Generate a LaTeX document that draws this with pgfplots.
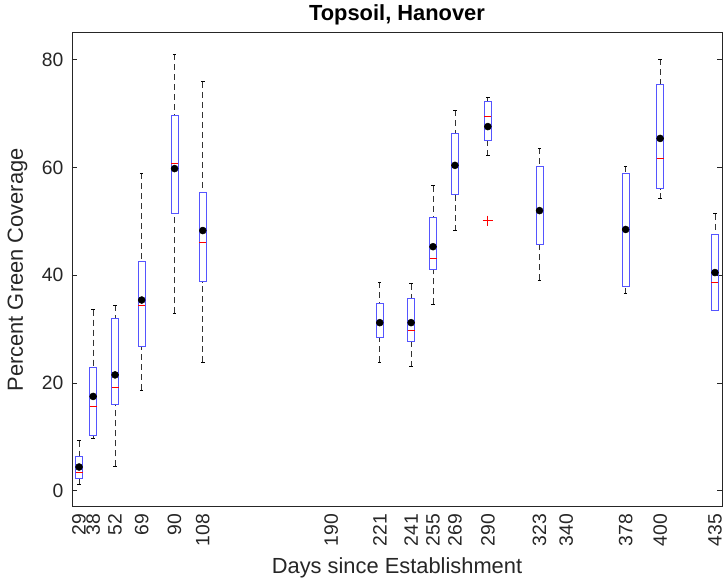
\documentclass[border=0pt]{standalone}
\usepackage{fontspec}
\setmainfont{Liberation Sans}
\usepackage{pgfplots}
\pgfplotsset{compat=1.18}
\usepgfplotslibrary{statistics}

\definecolor{axisgrey}{RGB}{38,38,38}
\definecolor{boxblue}{RGB}{85,85,255}

\pgfplotsset{
  mbox/.style={
    boxblue, line width=0.75pt,
    boxplot/draw direction=y,
    boxplot/box extend=4.5,
    boxplot/whisker extend=2.2,
    boxplot/every box/.style={draw=boxblue, line width=0.75pt},
    boxplot/every median/.style={draw=red, line width=0.75pt},
    boxplot/draw/lower whisker/.code={%
      \draw[black!80, line width=0.6pt, dash pattern=on 4.5pt off 3pt]
        (boxplot box cs:\pgfplotsboxplotvalue{lower whisker},0.5) --
        (boxplot box cs:\pgfplotsboxplotvalue{lower quartile},0.5);
      \draw[black, line width=0.6pt]
        (boxplot whisker cs:\pgfplotsboxplotvalue{lower whisker},0) --
        (boxplot whisker cs:\pgfplotsboxplotvalue{lower whisker},1);
    },
    boxplot/draw/upper whisker/.code={%
      \draw[black!80, line width=0.6pt, dash pattern=on 4.5pt off 3pt]
        (boxplot box cs:\pgfplotsboxplotvalue{upper whisker},0.5) --
        (boxplot box cs:\pgfplotsboxplotvalue{upper quartile},0.5);
      \draw[black, line width=0.6pt]
        (boxplot whisker cs:\pgfplotsboxplotvalue{upper whisker},0) --
        (boxplot whisker cs:\pgfplotsboxplotvalue{upper whisker},1);
    },
  },
}

\begin{document}
\begin{tikzpicture}
\begin{axis}[
  width=487.5pt, height=355.5pt, scale only axis,
  xmin=24.5, xmax=439.5, ymin=-3, ymax=85,
  xtick={29,38,52,69,90,108,190,221,241,255,269,290,323,340,378,400,435},
  ytick={0,20,40,60,80},
  xticklabel style={rotate=90, anchor=east, font=\fontsize{14.5}{16}\selectfont},
  yticklabel style={font=\fontsize{14.5}{16}\selectfont},
  /pgf/number format/assume math mode=true,
  xticklabel shift=2pt,
  yticklabel shift=3pt,
  xlabel shift=1.5pt,
  ylabel shift=4pt,
  tick align=inside,
  major tick length=3.75pt,
  xtick style={draw=none},
  ytick style={axisgrey, line width=0.5pt},
  axis line style={axisgrey, line width=0.6pt},
  tick label style={axisgrey},
  title={\textbf{Topsoil, Hanover}},
  title style={font=\fontsize{16.4}{18}\selectfont, yshift=-3.5pt},
  xlabel={Days since Establishment},
  ylabel={Percent Green Coverage},
  label style={font=\fontsize{16.4}{18}\selectfont, axisgrey},
  clip=false,
]
% day 29
\addplot[mbox, boxplot prepared={draw position=29, lower whisker=1.2, lower quartile=2.3, median=3.3, upper quartile=6.4, upper whisker=9.3}] coordinates {};
% day 38
\addplot[mbox, boxplot prepared={draw position=38, lower whisker=9.8, lower quartile=10.3, median=15.6, upper quartile=22.8, upper whisker=33.6}] coordinates {};
% day 52
\addplot[mbox, boxplot prepared={draw position=52, lower whisker=4.5, lower quartile=16.0, median=19.2, upper quartile=31.9, upper whisker=34.4}] coordinates {};
% day 69
\addplot[mbox, boxplot prepared={draw position=69, lower whisker=18.7, lower quartile=26.7, median=34.3, upper quartile=42.6, upper whisker=58.9}] coordinates {};
% day 90
\addplot[mbox, boxplot prepared={draw position=90, lower whisker=32.9, lower quartile=51.4, median=60.7, upper quartile=69.7, upper whisker=81.0}] coordinates {};
% day 108
\addplot[mbox, boxplot prepared={draw position=108, lower whisker=23.9, lower quartile=38.8, median=46.1, upper quartile=55.4, upper whisker=75.9}] coordinates {};
% day 221
\addplot[mbox, boxplot prepared={draw position=221, lower whisker=23.9, lower quartile=28.5, median=31.2, upper quartile=34.7, upper whisker=38.7}] coordinates {};
% day 241
\addplot[mbox, boxplot prepared={draw position=241, lower whisker=23.0, lower quartile=27.7, median=29.8, upper quartile=35.7, upper whisker=38.4}] coordinates {};
% day 255
\addplot[mbox, boxplot prepared={draw position=255, lower whisker=34.6, lower quartile=41.0, median=43.1, upper quartile=50.7, upper whisker=56.6}] coordinates {};
% day 269
\addplot[mbox, boxplot prepared={draw position=269, lower whisker=48.3, lower quartile=54.9, median=60.4, upper quartile=66.4, upper whisker=70.6}] coordinates {};
% day 290
\addplot[mbox, boxplot prepared={draw position=290, lower whisker=62.2, lower quartile=65.0, median=69.5, upper quartile=72.3, upper whisker=73.1}] coordinates {};
% day 323
\addplot[mbox, boxplot prepared={draw position=323, lower whisker=39.1, lower quartile=45.7, median=52.0, upper quartile=60.2, upper whisker=63.6}] coordinates {};
% day 378
\addplot[mbox, boxplot prepared={draw position=378, lower whisker=36.6, lower quartile=38.0, median=48.5, upper quartile=58.9, upper whisker=60.3}] coordinates {};
% day 400
\addplot[mbox, boxplot prepared={draw position=400, lower whisker=54.2, lower quartile=56.1, median=61.7, upper quartile=75.5, upper whisker=80.1}] coordinates {};
% day 435
\addplot[mbox, boxplot prepared={draw position=435, lower whisker=33.5, lower quartile=33.5, median=38.7, upper quartile=47.6, upper whisker=51.4}] coordinates {};

% outlier
\addplot[only marks, mark=+, red, mark size=4pt, mark options={line width=0.6pt}] coordinates {(290,50.1)};

% means
\addplot[only marks, mark=*, black, mark size=2.6pt] coordinates {
  (29,4.4) (38,17.5) (52,21.5) (69,35.4) (90,59.8) (108,48.3)
  (221,31.2) (241,31.2) (255,45.3) (269,60.4) (290,67.6)
  (323,52.0) (378,48.5) (400,65.4) (435,40.5)
};
\end{axis}
% white margin left and right, as in the reference
\path ([xshift=-54pt]current axis.south west) ([xshift=3.75pt]current axis.south east);
\end{tikzpicture}
\end{document}
